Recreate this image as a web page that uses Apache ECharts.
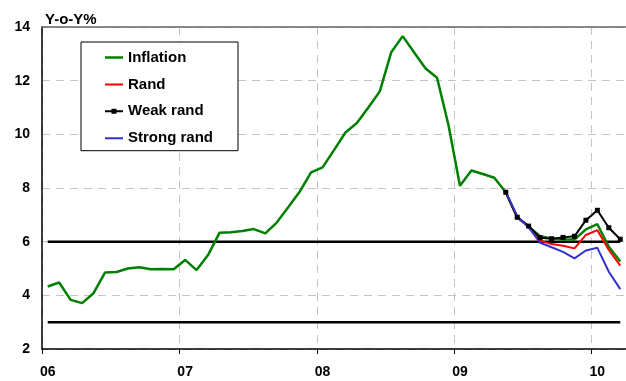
<!DOCTYPE html>
<html><head><meta charset="utf-8">
<script src="https://cdn.jsdelivr.net/npm/echarts@6/dist/echarts.min.js"></script>
<style>html,body{margin:0;padding:0;background:#fff}#c{width:626px;height:381px}</style>
</head><body><div id="c"></div>
<script>
const months = [
 'Jan 06','Feb 06','Mar 06','Apr 06','May 06','Jun 06','Jul 06','Aug 06','Sep 06','Oct 06','Nov 06','Dec 06',
 'Jan 07','Feb 07','Mar 07','Apr 07','May 07','Jun 07','Jul 07','Aug 07','Sep 07','Oct 07','Nov 07','Dec 07',
 'Jan 08','Feb 08','Mar 08','Apr 08','May 08','Jun 08','Jul 08','Aug 08','Sep 08','Oct 08','Nov 08','Dec 08',
 'Jan 09','Feb 09','Mar 09','Apr 09','May 09','Jun 09','Jul 09','Aug 09','Sep 09','Oct 09','Nov 09','Dec 09',
 'Jan 10','Feb 10','Mar 10'];
const inflation = [4.33,4.48,3.83,3.71,4.08,4.85,4.87,5.00,5.05,4.97,4.98,4.97,
 5.32,4.94,5.50,6.33,6.35,6.40,6.47,6.31,6.71,7.28,7.86,8.58,
 8.77,9.41,10.07,10.42,11.00,11.60,13.06,13.66,13.05,12.45,12.11,10.34,
 8.08,8.65,8.52,8.38,7.84,6.91,6.56,6.20,6.12,6.08,6.08,6.46,6.65,5.81,5.26];
const pre = new Array(40).fill(null);
const rand = pre.concat([7.84,6.91,6.58,6.04,5.91,5.85,5.75,6.25,6.43,5.69,5.11]);
const weakRand = pre.concat([7.84,6.91,6.58,6.15,6.11,6.16,6.20,6.80,7.17,6.52,6.09]);
const strongRand = pre.concat([7.84,6.95,6.53,5.96,5.79,5.62,5.38,5.67,5.77,4.88,4.23]);
const upperTarget = months.map(() => 6);
const lowerTarget = months.map(() => 3);
const yTicks = [2,4,6,8,10,12,14];

const FONT = 'Liberation Sans, Arial, sans-serif';
// legend icons: 18x14 box, corner specks keep the box size
const BOX = 'M0,0h0.01v0.01h-0.01z M17.99,13.99h0.01v0.01h-0.01z ';
const ICON_LINE = 'path://' + BOX + 'M0,5.75h18v2.5h-18z';
const ICON_THIN = 'path://' + BOX + 'M0,6h18v2h-18z';
const ICON_MARK = 'path://' + BOX + 'M0,6h18v2h-18z M6.5,4.5h5v5h-5z';

const chart = echarts.init(document.getElementById('c'), null, {renderer:'canvas'});
chart.setOption({
  animation:false,
  backgroundColor:'#fff',
  title:{text:'Y-o-Y%', left:40, top:7, textStyle:{fontFamily:FONT,fontSize:15,fontWeight:'bold',color:'#000'}},
  legend:{
    data:[
      {name:'Inflation', icon:ICON_LINE},
      {name:'Rand', icon:ICON_THIN},
      {name:'Weak rand', icon:ICON_MARK},
      {name:'Strong rand', icon:ICON_THIN}],
    orient:'vertical', left:81, top:42,
    backgroundColor:'#fff', borderColor:'#000', borderWidth:1,
    padding:[8,25,5,24], itemGap:11.9, itemWidth:18, itemHeight:14,
    textStyle:{fontFamily:FONT,fontSize:15,fontWeight:'bold',color:'#000'}
  },
  grid:{left:42,right:-1,top:27,bottom:32,containLabel:false},
  xAxis:[{
    type:'category', data:months, boundaryGap:true,
    axisLine:{lineStyle:{color:'#000',width:1.5}},
    axisTick:{show:true, interval:11, length:5, lineStyle:{color:'#000'}},
    axisLabel:{interval:11, margin:16, formatter:v=>v.slice(4), fontFamily:FONT, fontSize:14, fontWeight:'bold', color:'#000'},
    splitLine:{show:true, interval:11, lineStyle:{color:'#c4c4c4', type:[8,6], width:1}}
  },{
    type:'category', data:months, position:'top',
    axisLine:{show:true, lineStyle:{color:'#666',width:1.5}},
    axisTick:{show:false}, axisLabel:{show:false}, splitLine:{show:false}
  }],
  yAxis:{
    type:'value', min:2, max:14, interval:2,
    axisLine:{show:true, lineStyle:{color:'#000',width:1.5}},
    axisTick:{show:false},
    axisLabel:{margin:12, fontFamily:FONT, fontSize:14, fontWeight:'bold', color:'#000',
      formatter:v=> yTicks.includes(v) ? String(v) : ''},
    splitLine:{show:true, lineStyle:{color:'#c4c4c4', type:[8,6], width:1}}
  },
  series:[
    {name:'Upper', type:'line', data:upperTarget, symbol:'none', silent:true,
     lineStyle:{color:'#000', width:2.5}},
    {name:'Lower', type:'line', data:lowerTarget, symbol:'none', silent:true,
     lineStyle:{color:'#000', width:2.5}},
    {name:'Inflation', type:'line', data:inflation, symbol:'none', color:'#008000',
     lineStyle:{color:'#008000', width:2.5}},
    {name:'Rand', type:'line', data:rand, symbol:'none', color:'#ff0000',
     lineStyle:{color:'#ff0000', width:2}},
    {name:'Weak rand', type:'line', data:weakRand, symbol:'rect', symbolSize:5, color:'#000',
     itemStyle:{color:'#000'}, lineStyle:{color:'#000', width:2}},
    {name:'Strong rand', type:'line', data:strongRand, symbol:'none', color:'#3333cc',
     lineStyle:{color:'#3333cc', width:2}}
  ]
});
</script></body></html>
